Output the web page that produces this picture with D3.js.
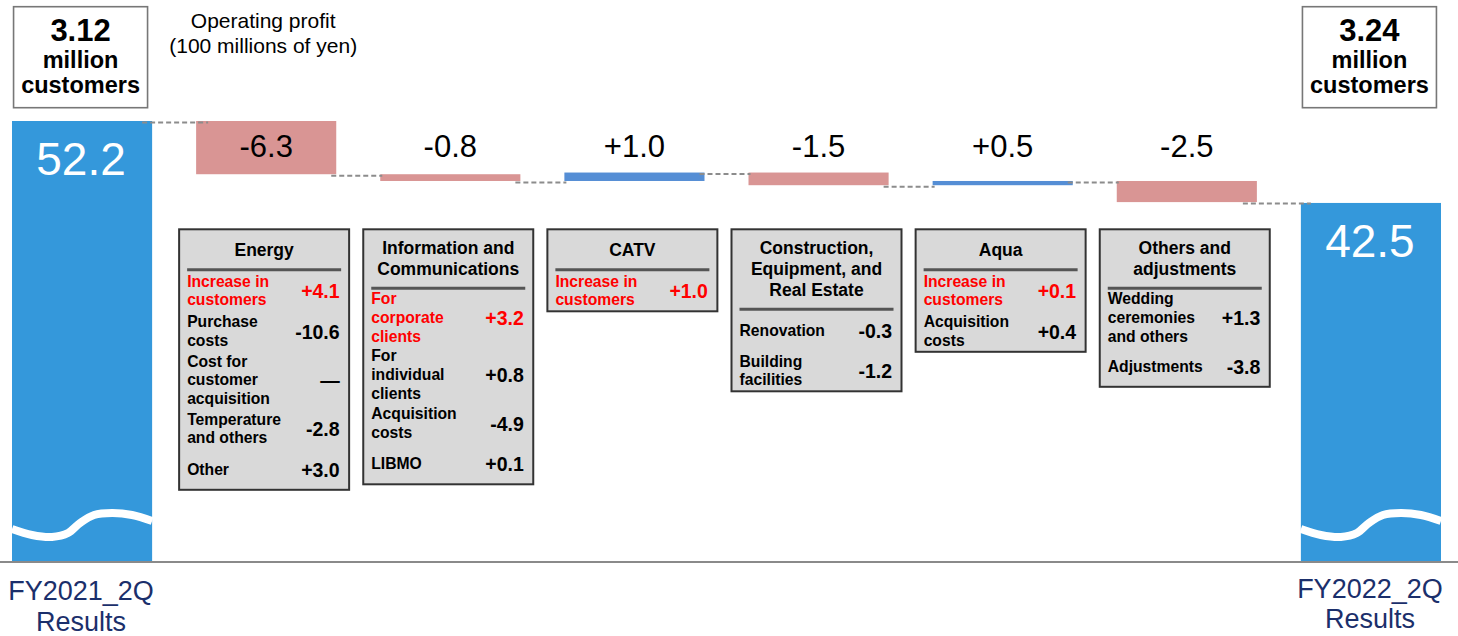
<!DOCTYPE html>
<html>
<head>
<meta charset="utf-8">
<script src="https://cdn.jsdelivr.net/npm/d3@7"></script>
<style>
  html, body { margin: 0; padding: 0; background: #fff; }
  svg { display: block; font-family: "Liberation Sans", Arial, Helvetica, sans-serif; }
</style>
</head>
<body>
<svg id="chart" width="1458" height="636"></svg>
<script>
// ---------------- DATA ----------------
const categories = ["FY2021_2Q", "Energy", "Information and Communications", "CATV",
  "Construction, Equipment, and Real Estate", "Aqua", "Others and adjustments", "FY2022_2Q"];
const startValue = 52.2;
const endValue = 42.5;
const deltas = [-6.3, -0.8, 1.0, -1.5, 0.5, -2.5];
const deltaLabels = ["-6.3", "-0.8", "+1.0", "-1.5", "+0.5", "-2.5"];
const totalLabels = ["52.2", "42.5"];
const customerCounts = ["3.12", "3.24"];
const customerUnit = ["million", "customers"];
const periodLabels = [["FY2021_2Q", "Results"], ["FY2022_2Q", "Results"]];
const unitTitle = ["Operating profit", "(100 millions of yen)"];

const boxTitles = [
  ["Energy"],
  ["Information and", "Communications"],
  ["CATV"],
  ["Construction,", "Equipment, and", "Real Estate"],
  ["Aqua"],
  ["Others and", "adjustments"]
];
const boxItems = [
  [
    { label: ["Increase in", "customers"], value: "+4.1", hi: true },
    { label: ["Purchase", "costs"], value: "-10.6" },
    { label: ["Cost for", "customer", "acquisition"], value: "\u2014" },
    { label: ["Temperature", "and others"], value: "-2.8" },
    { label: ["Other"], value: "+3.0" }
  ],
  [
    { label: ["For", "corporate", "clients"], value: "+3.2", hi: true },
    { label: ["For", "individual", "clients"], value: "+0.8" },
    { label: ["Acquisition", "costs"], value: "-4.9" },
    { label: ["LIBMO"], value: "+0.1" }
  ],
  [
    { label: ["Increase in", "customers"], value: "+1.0", hi: true }
  ],
  [
    { label: ["Renovation"], value: "-0.3" },
    { label: ["Building", "facilities"], value: "-1.2" }
  ],
  [
    { label: ["Increase in", "customers"], value: "+0.1", hi: true },
    { label: ["Acquisition", "costs"], value: "+0.4" }
  ],
  [
    { label: ["Wedding", "ceremonies", "and others"], value: "+1.3" },
    { label: ["Adjustments"], value: "-3.8" }
  ]
];

// ---------------- STYLE ----------------
const C = {
  total: "#3498db", neg: "#d99594", pos: "#558ed5",
  conn: "#8c8c8c", box: "#d9d9d9", boxStroke: "#333", red: "#ff0000",
  navy: "#1b2f6b", base: "#8a8a8a"
};

const svg = d3.select("#chart");
const W = 1458, H = 636;

const x = d3.scaleBand().domain(categories).range([12, 1441]).paddingInner(0.239).paddingOuter(0);
const y = d3.scaleLinear().domain([0, 52.2]).range([562, 121]);
const bw = x.bandwidth();

// Build waterfall segments
const segs = [];
segs.push({ cat: categories[0], y0: 0, y1: startValue, type: "total", label: totalLabels[0] });
let cum = startValue;
deltas.forEach((d, i) => {
  const s = cum, e = cum + d;
  segs.push({ cat: categories[i + 1], y0: Math.min(s, e), y1: Math.max(s, e), start: s, end: e,
    type: d < 0 ? "neg" : "pos", label: deltaLabels[i] });
  cum = e;
});
segs.push({ cat: categories[7], y0: 0, y1: endValue, type: "total", label: totalLabels[1] });

// Bars
svg.append("g").selectAll("rect").data(segs).join("rect")
  .attr("x", d => x(d.cat))
  .attr("y", d => y(d.y1))
  .attr("width", bw)
  .attr("height", d => Math.max(1, y(d.y0) - y(d.y1)))
  .attr("fill", d => C[d.type]);

// Wave decoration on total bars
const wavePts = [[0, 33], [20, 27], [40, 25], [56, 29], [68, 39], [82, 47], [100, 49], [120, 47], [140, 41]];
const waveLine = d3.line().curve(d3.curveCatmullRom);
segs.filter(d => d.type === "total").forEach(d => {
  const x0 = x(d.cat);
  svg.append("path")
    .attr("d", waveLine(wavePts.map(p => [x0 + p[0] * bw / 140, y(0) - p[1]])))
    .attr("fill", "none").attr("stroke", "#fff").attr("stroke-width", 8);
});

// Connectors
const levels = [startValue];
{ let c = startValue; deltas.forEach(d => { c += d; levels.push(c); }); }
for (let i = 0; i < categories.length - 1; i++) {
  const lv = levels[i];
  const first = i === 0, last = i === categories.length - 2;
  const xs = x(categories[i]) + bw - (first ? 10 : last ? 14 : 5);
  const xe = x(categories[i + 1]) + (first ? 12 : last ? 10 : 2);
  svg.append("line")
    .attr("x1", xs).attr("x2", xe)
    .attr("y1", y(lv) + 1.5).attr("y2", y(lv) + 1.5)
    .attr("stroke", C.conn).attr("stroke-width", 2).attr("stroke-dasharray", "5,3");
}

// Baseline
svg.append("line").attr("x1", 0).attr("x2", W).attr("y1", y(0)).attr("y2", y(0))
  .attr("stroke", C.base).attr("stroke-width", 2);

// Bar labels
segs.forEach(d => {
  if (d.type === "total") {
    svg.append("text").attr("x", x(d.cat) + bw / 2 - 1).attr("y", y(d.y1) + 54)
      .attr("text-anchor", "middle").attr("fill", "#fff")
      .style("font-size", "46px").text(d.label);
  } else {
    svg.append("text").attr("x", x(d.cat) + bw / 2).attr("y", 157)
      .attr("text-anchor", "middle").attr("fill", "#000")
      .style("font-size", "31px").text(d.label);
  }
});

// Customer boxes
[categories[0], categories[7]].forEach((cat, i) => {
  const cx = x(cat) + bw / 2 - 1.5;
  svg.append("rect").attr("x", cx - 67).attr("y", 6.7).attr("width", 134).attr("height", 101)
    .attr("fill", "#fff").attr("stroke", "#777").attr("stroke-width", 1.6);
  svg.append("text").attr("x", cx).attr("y", 40.5).attr("text-anchor", "middle")
    .style("font-size", "31px").style("font-weight", "bold").text(customerCounts[i]);
  customerUnit.forEach((t, j) => {
    svg.append("text").attr("x", cx).attr("y", 68.3 + j * 25).attr("text-anchor", "middle")
      .style("font-size", "23.5px").style("font-weight", "bold").text(t);
  });
  // period labels
  periodLabels[i].forEach((t, j) => {
    svg.append("text").attr("x", x(cat) + bw / 2 - 1).attr("y", (i === 0 ? 600 : 597.5) + j * 30.5)
      .attr("text-anchor", "middle").attr("fill", C.navy)
      .style("font-size", "27px").text(t);
  });
});

// Unit title
unitTitle.forEach((t, j) => {
  svg.append("text").attr("x", x(categories[1]) + bw / 2 - 3).attr("y", 28 + j * 25)
    .attr("text-anchor", "middle").style("font-size", "21px").text(t);
});

// Detail boxes
const boxTop = 229.3, boxW = 170;
boxTitles.forEach((title, bi) => {
  const cat = categories[bi + 1];
  const bx = x(cat) - 17;
  const g = svg.append("g");
  const rect = g.append("rect").attr("x", bx).attr("y", boxTop).attr("width", boxW)
    .attr("fill", C.box).attr("stroke", C.boxStroke).attr("stroke-width", 2);
  const tfirst = boxTop + 24.5 + (title.length === 1 ? 2.5 : 0);
  title.forEach((t, j) => {
    g.append("text").attr("x", bx + boxW / 2).attr("y", tfirst + j * 21)
      .attr("text-anchor", "middle").style("font-size", "17.5px").style("font-weight", "bold").text(t);
  });
  const sepY = tfirst + (title.length - 1) * 21 + 13.5;
  g.append("line").attr("x1", bx + 8).attr("x2", bx + boxW - 8).attr("y1", sepY).attr("y2", sepY)
    .attr("stroke", "#555").attr("stroke-width", 3);
  let ry = sepY + 0.5;
  boxItems[bi].forEach(item => {
    const n = item.label.length;
    const h = Math.max(40.5, n * 19);
    const cy = ry + h / 2;
    const col = item.hi ? C.red : "#000";
    item.label.forEach((t, j) => {
      g.append("text").attr("x", bx + 8).attr("y", cy + 5.5 + (j - (n - 1) / 2) * 18.7)
        .attr("fill", col).style("font-size", "15.7px").style("font-weight", "bold").text(t);
    });
    g.append("text").attr("x", bx + boxW - 9.5).attr("y", cy + 7.5).attr("text-anchor", "end")
      .attr("fill", col).style("font-size", "19.5px").style("font-weight", "bold").text(item.value);
    ry += h;
  });
  rect.attr("height", ry + 0.5 - boxTop);
});
</script>
</body>
</html>
